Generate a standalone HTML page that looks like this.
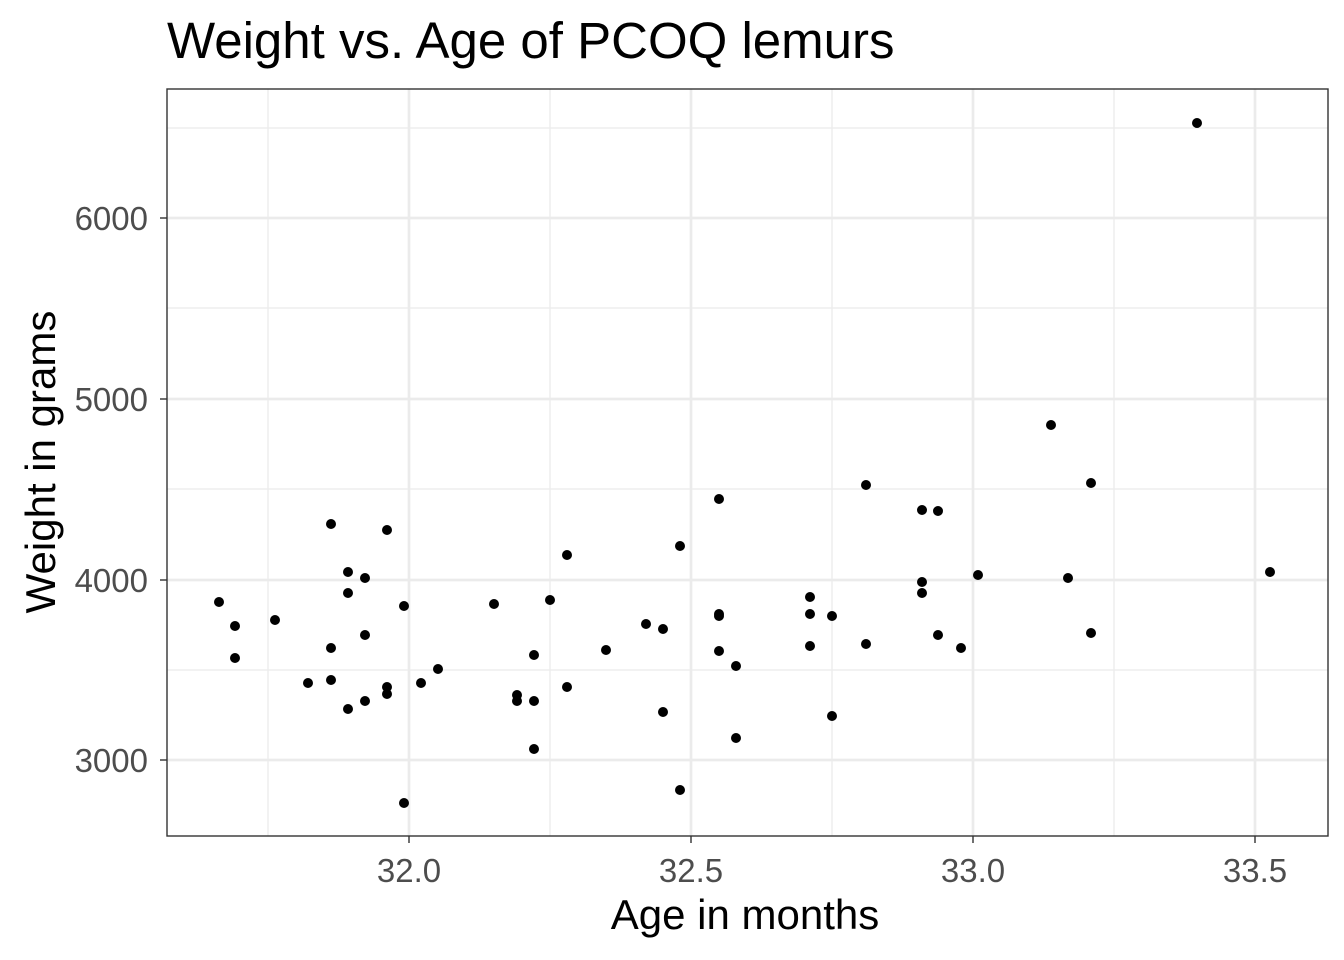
<!DOCTYPE html>
<html><head><style>body{margin:0;background:#fff}svg{display:block}text{font-family:"Liberation Sans",sans-serif}</style></head><body>
<svg width="1344" height="960" xmlns="http://www.w3.org/2000/svg">
<rect width="1344" height="960" fill="#fff"/>
<g stroke="#ebebeb" stroke-width="1.3">
<line x1="167" x2="1328" y1="128" y2="128"/><line x1="167" x2="1328" y1="308" y2="308"/><line x1="167" x2="1328" y1="489" y2="489"/><line x1="167" x2="1328" y1="670" y2="670"/>
<line x1="268" x2="268" y1="89" y2="836"/><line x1="550" x2="550" y1="89" y2="836"/><line x1="832" x2="832" y1="89" y2="836"/><line x1="1114" x2="1114" y1="89" y2="836"/>
</g>
<g stroke="#ebebeb" stroke-width="2.7">
<line x1="167" x2="1328" y1="218" y2="218"/><line x1="167" x2="1328" y1="399" y2="399"/><line x1="167" x2="1328" y1="580" y2="580"/><line x1="167" x2="1328" y1="760" y2="760"/>
<line x1="409" x2="409" y1="89" y2="836"/><line x1="691" x2="691" y1="89" y2="836"/><line x1="973" x2="973" y1="89" y2="836"/><line x1="1255" x2="1255" y1="89" y2="836"/>
</g>
<g fill="#000">
<circle cx="219" cy="602" r="5"/><circle cx="235" cy="626" r="5"/><circle cx="235" cy="658" r="5"/><circle cx="275" cy="620" r="5"/><circle cx="308" cy="683" r="5"/><circle cx="331" cy="524" r="5"/><circle cx="331" cy="648" r="5"/><circle cx="331" cy="680" r="5"/><circle cx="348" cy="572" r="5"/><circle cx="348" cy="593" r="5"/><circle cx="348" cy="709" r="5"/><circle cx="365" cy="578" r="5"/><circle cx="365" cy="635" r="5"/><circle cx="365" cy="701" r="5"/><circle cx="387" cy="530" r="5"/><circle cx="387" cy="687" r="5"/><circle cx="387" cy="694" r="5"/><circle cx="404" cy="606" r="5"/><circle cx="404" cy="803" r="5"/><circle cx="421" cy="683" r="5"/><circle cx="438" cy="669" r="5"/><circle cx="494" cy="604" r="5"/><circle cx="517" cy="695" r="5"/><circle cx="517" cy="701" r="5"/><circle cx="534" cy="655" r="5"/><circle cx="534" cy="701" r="5"/><circle cx="534" cy="749" r="5"/><circle cx="550" cy="600" r="5"/><circle cx="567" cy="555" r="5"/><circle cx="567" cy="687" r="5"/><circle cx="606" cy="650" r="5"/><circle cx="646" cy="624" r="5"/><circle cx="663" cy="629" r="5"/><circle cx="663" cy="712" r="5"/><circle cx="680" cy="546" r="5"/><circle cx="680" cy="790" r="5"/><circle cx="719" cy="499" r="5"/><circle cx="719" cy="614" r="5"/><circle cx="719" cy="616" r="5"/><circle cx="719" cy="651" r="5"/><circle cx="736" cy="666" r="5"/><circle cx="736" cy="738" r="5"/><circle cx="810" cy="597" r="5"/><circle cx="810" cy="614" r="5"/><circle cx="810" cy="646" r="5"/><circle cx="832" cy="616" r="5"/><circle cx="832" cy="716" r="5"/><circle cx="866" cy="485" r="5"/><circle cx="866" cy="644" r="5"/><circle cx="922" cy="510" r="5"/><circle cx="922" cy="582" r="5"/><circle cx="922" cy="593" r="5"/><circle cx="938" cy="511" r="5"/><circle cx="938" cy="635" r="5"/><circle cx="961" cy="648" r="5"/><circle cx="978" cy="575" r="5"/><circle cx="1051" cy="425" r="5"/><circle cx="1068" cy="578" r="5"/><circle cx="1091" cy="483" r="5"/><circle cx="1091" cy="633" r="5"/><circle cx="1197" cy="123" r="5"/><circle cx="1270" cy="572" r="5"/>
</g>
<rect x="167" y="89" width="1161" height="747" fill="none" stroke="#333" stroke-width="1.4"/>
<g stroke="#333" stroke-width="1.4">
<line x1="160" x2="167" y1="218" y2="218"/><line x1="160" x2="167" y1="399" y2="399"/><line x1="160" x2="167" y1="580" y2="580"/><line x1="160" x2="167" y1="760" y2="760"/>
<line x1="409" x2="409" y1="836" y2="843"/><line x1="691" x2="691" y1="836" y2="843"/><line x1="973" x2="973" y1="836" y2="843"/><line x1="1255" x2="1255" y1="836" y2="843"/>
</g>
<g fill="#4d4d4d" font-size="33" text-anchor="end">
<text x="148" y="230">6000</text><text x="148" y="411">5000</text><text x="148" y="592">4000</text><text x="148" y="772">3000</text>
</g>
<g fill="#4d4d4d" font-size="33" text-anchor="middle">
<text x="409" y="882">32.0</text><text x="691" y="882">32.5</text><text x="973" y="882">33.0</text><text x="1255" y="882">33.5</text>
</g>
<text x="745" y="929" font-size="42" text-anchor="middle">Age in months</text>
<text transform="translate(55,462) rotate(-90)" font-size="42" text-anchor="middle">Weight in grams</text>
<text x="167" y="58" font-size="51">Weight vs. Age of PCOQ lemurs</text>
</svg>
</body></html>
